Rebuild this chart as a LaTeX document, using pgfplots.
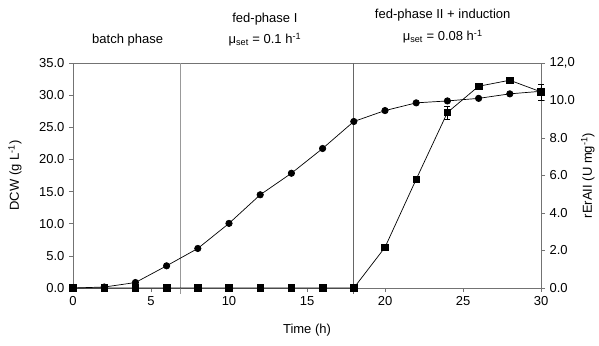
\documentclass[border=0pt]{standalone}
\usepackage{fontspec}
\setmainfont{Liberation Sans}
\usepackage{pgfplots}
\pgfplotsset{compat=1.18}
\begin{document}
\fontsize{13}{15}\selectfont
\begin{tikzpicture}
\pgfplotsset{
  every axis/.append style={
    width=468pt, height=225pt, scale only axis,
    xmin=0, xmax=30, clip=false,
    tick align=outside, major tick length=4pt,
    axis line style={black!55, line width=0.8pt},
    every tick/.style={black!55, line width=0.6pt},
    /pgf/number format/assume math mode=true,
    tick label style={font=\fontsize{13}{15}\selectfont},
    label style={font=\fontsize{13}{15}\selectfont},
  }
}
\begin{axis}[
  at={(0pt,0pt)}, anchor=south west,
  ymin=0, ymax=35,
  xtick={0,5,...,30}, ytick={0,5,...,35},
  xtick pos=bottom, ytick pos=left,
  yticklabel style={/pgf/number format/.cd,fixed,fixed zerofill,precision=1},
  ylabel={DCW (g L\textsuperscript{-1})},
  xlabel={Time (h)},
  xlabel style={at={(axis description cs:0.5,-0.187)}, anchor=center},
  ylabel style={at={(axis description cs:-0.124,0.5)}, anchor=center},
]
\addplot[black!40, line width=0.8pt] coordinates {(6.9,-0.9) (6.9,35)};
\addplot[black!60, line width=0.8pt] coordinates {(18,-0.9) (18,35)};
\addplot[black, line width=0.7pt, mark=*, mark size=3.2pt] coordinates {
(0,0) (2,0.15) (4,0.85) (6,3.45) (8,6.15) (10,10.05) (12,14.5) (14,17.85)
(16,21.7) (18,25.9) (20,27.6) (22,28.8) (24,29.1) (26,29.5) (28,30.2) (30,30.6)};
\node[align=center] at (axis cs:3.5,38.6) {batch phase};
\node[align=center] at (axis cs:12.3,41.9) {fed-phase I};
\node[align=center] at (axis cs:12.3,38.6) {μ\textsubscript{set} = 0.1 h\textsuperscript{-1}};
\node[align=center] at (axis cs:23.7,42.4) {fed-phase II + induction};
\node[align=center] at (axis cs:23.7,39.1) {μ\textsubscript{set} = 0.08 h\textsuperscript{-1}};
\end{axis}
\begin{axis}[
  at={(0pt,0pt)}, anchor=south west,
  ymin=0, ymax=12,
  axis x line=none, axis y line*=right,
  ytick={0,2,...,12},
  yticklabels={0.0,2.0,4.0,6.0,8.0,10.0,{12,0}},
  ylabel={rErAII (U mg\textsuperscript{-1})},
  ylabel style={at={(axis description cs:1.1,0.5)}, anchor=center},
]
\addplot[black, line width=0.7pt, mark=square*, mark size=3.3pt,
  error bars/.cd, y dir=both, y explicit,
  error bar style={black, line width=0.6pt}, error mark options={rotate=90, mark size=3pt}]
 coordinates {
(0,0) (2,0) (4,0) (6,0) (8,0) (10,0) (12,0) (14,0) (16,0) (18,0)
(20,2.17) +- (0,0.05) (22,5.8) +- (0,0.15) (24,9.36) +- (0,0.35)
(26,10.76) +- (0,0.05) (28,11.08) +- (0,0.05) (30,10.46) +- (0,0.42)};
\end{axis}
\pgfresetboundingbox
\path[use as bounding box] (-73pt,-57pt) rectangle (526pt,288pt);
\end{tikzpicture}
\end{document}
